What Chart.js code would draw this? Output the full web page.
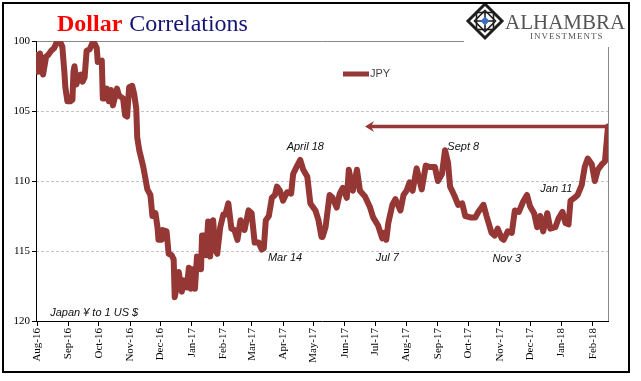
<!DOCTYPE html>
<html>
<head>
<meta charset="utf-8">
<title>Dollar Correlations</title>
<script src="https://cdn.jsdelivr.net/npm/chart.js@4.4.1/dist/chart.umd.min.js"></script>
<style>
  html, body { margin: 0; padding: 0; background: #fff; overflow: hidden; }
  #jpyChart { display: block; }
</style>
</head>
<body>
<canvas id="jpyChart" width="641" height="381"></canvas>
<script>
// --- DATA ---
const startDate = '2016-08-01';
const endDate = '2018-02-16';

const monthStarts = ['2016-08-01', '2016-09-01', '2016-10-01', '2016-11-01', '2016-12-01', '2017-01-01',
  '2017-02-01', '2017-03-01', '2017-04-01', '2017-05-01', '2017-06-01', '2017-07-01', '2017-08-01',
  '2017-09-01', '2017-10-01', '2017-11-01', '2017-12-01', '2018-01-01', '2018-02-01'];
const monthLabels = ['Aug-16', 'Sep-16', 'Oct-16', 'Nov-16', 'Dec-16', 'Jan-17', 'Feb-17', 'Mar-17', 'Apr-17',
  'May-17', 'Jun-17', 'Jul-17', 'Aug-17', 'Sep-17', 'Oct-17', 'Nov-17', 'Dec-17', 'Jan-18', 'Feb-18'];
const yTicks = [100, 105, 110, 115, 120];

// JPY per 1 USD
const jpyDates = [
  '2016-08-01', '2016-08-02', '2016-08-04', '2016-08-07', '2016-08-10', '2016-08-12', '2016-08-15', '2016-08-18',
  '2016-08-21', '2016-08-24', '2016-08-26', '2016-08-28', '2016-08-29', '2016-08-31',
  '2016-09-03', '2016-09-05', '2016-09-06', '2016-09-07', '2016-09-09', '2016-09-11', '2016-09-13', '2016-09-15',
  '2016-09-17', '2016-09-19', '2016-09-22', '2016-09-25', '2016-09-27', '2016-09-29', '2016-09-30',
  '2016-10-04', '2016-10-05', '2016-10-07', '2016-10-09', '2016-10-11', '2016-10-13', '2016-10-15', '2016-10-17',
  '2016-10-19', '2016-10-21', '2016-10-25', '2016-10-27', '2016-10-29', '2016-10-31',
  '2016-11-03', '2016-11-05', '2016-11-07', '2016-11-08', '2016-11-10', '2016-11-14', '2016-11-18', '2016-11-21',
  '2016-11-23', '2016-11-26', '2016-11-28', '2016-11-29',
  '2016-12-02', '2016-12-03', '2016-12-07', '2016-12-09', '2016-12-12', '2016-12-14', '2016-12-15', '2016-12-17',
  '2016-12-19', '2016-12-22', '2016-12-24', '2016-12-27', '2016-12-29', '2016-12-31',
  '2017-01-02', '2017-01-04', '2017-01-06', '2017-01-08', '2017-01-10', '2017-01-11', '2017-01-13', '2017-01-15',
  '2017-01-17', '2017-01-19', '2017-01-22', '2017-01-24', '2017-01-26', '2017-01-29',
  '2017-02-01', '2017-02-03', '2017-02-06', '2017-02-09', '2017-02-12', '2017-02-15', '2017-02-18', '2017-02-22',
  '2017-02-26',
  '2017-03-01', '2017-03-04', '2017-03-08', '2017-03-11', '2017-03-13', '2017-03-15', '2017-03-18', '2017-03-21',
  '2017-03-24', '2017-03-26', '2017-03-29',
  '2017-04-01', '2017-04-05', '2017-04-09', '2017-04-11', '2017-04-15', '2017-04-18', '2017-04-21', '2017-04-25',
  '2017-04-28',
  '2017-05-03', '2017-05-06', '2017-05-09', '2017-05-10', '2017-05-13', '2017-05-17', '2017-05-20', '2017-05-24',
  '2017-05-27', '2017-05-30',
  '2017-06-03', '2017-06-05', '2017-06-09', '2017-06-13', '2017-06-16', '2017-06-21', '2017-06-26', '2017-06-29',
  '2017-07-04', '2017-07-08', '2017-07-10', '2017-07-12', '2017-07-14', '2017-07-18', '2017-07-21', '2017-07-26',
  '2017-07-29',
  '2017-08-01', '2017-08-04', '2017-08-07', '2017-08-11', '2017-08-16', '2017-08-20', '2017-08-24', '2017-08-29',
  '2017-09-01', '2017-09-05', '2017-09-08', '2017-09-11', '2017-09-13', '2017-09-17', '2017-09-21', '2017-09-25',
  '2017-09-28',
  '2017-10-03', '2017-10-08', '2017-10-11', '2017-10-16', '2017-10-19', '2017-10-24', '2017-10-27', '2017-10-30',
  '2017-11-03', '2017-11-05', '2017-11-09', '2017-11-13', '2017-11-16', '2017-11-20', '2017-11-24', '2017-11-28',
  '2017-12-01', '2017-12-05', '2017-12-08', '2017-12-11', '2017-12-14', '2017-12-18', '2017-12-21', '2017-12-26',
  '2017-12-29',
  '2018-01-02', '2018-01-05', '2018-01-08', '2018-01-10', '2018-01-14', '2018-01-17', '2018-01-21', '2018-01-24',
  '2018-01-27', '2018-01-31',
  '2018-02-03', '2018-02-06', '2018-02-10', '2018-02-13', '2018-02-16'
];
const jpyValues = [
  101.0, 102.2, 100.9, 102.4, 101.1, 101.0, 100.7, 100.5, 100.0, 100.1, 100.4, 102.2, 103.3, 104.3,
  104.3, 104.2, 102.2, 101.8, 103.1, 102.5, 102.4, 102.9, 102.6, 100.7, 100.6, 100.1, 100.2, 100.5, 101.5,
  101.4, 104.1, 104.1, 103.4, 104.3, 103.5, 104.6, 104.0, 103.4, 103.9, 104.1, 105.3, 105.4, 103.3,
  103.2, 103.8, 104.8, 106.9, 107.8, 109.0, 110.6, 111.0, 112.5, 112.3, 113.3, 114.2,
  114.2, 113.5, 113.6, 115.2, 115.3, 115.6, 118.3, 117.6, 116.5, 117.9, 117.1, 117.6, 116.2, 117.7,
  116.3, 117.7, 115.4, 115.5, 116.3, 113.9, 113.9, 115.3, 112.9, 115.4, 112.8, 114.9, 115.2, 113.3,
  112.4, 112.4, 111.6, 113.4, 113.5, 114.2, 112.8, 113.5, 112.1,
  112.3, 114.4, 114.4, 114.9, 114.8, 112.8, 112.5, 111.2, 111.0, 110.4, 110.7,
  111.4, 110.8, 110.9, 109.5, 108.9, 108.5, 109.2, 109.7, 111.6,
  112.1, 112.8, 114.0, 114.0, 113.3, 111.0, 111.2, 111.9, 110.9, 110.5,
  111.2, 109.2, 110.7, 109.2, 110.7, 111.1, 111.9, 112.6,
  113.2, 114.1, 113.7, 114.2, 113.0, 111.7, 111.3, 112.1, 111.0,
  110.7, 110.1, 110.7, 109.1, 110.6, 108.9, 109.0, 109.0,
  110.0, 109.5, 107.8, 108.7, 110.4, 111.0, 111.7, 111.6, 112.5,
  112.6, 112.6, 112.2, 111.7, 112.5, 113.7, 113.9, 113.4,
  114.1, 114.2, 113.6, 113.7, 112.1, 112.2, 111.5, 111.0,
  111.8, 112.3, 113.3, 112.5, 113.6, 112.3, 113.4, 113.3, 112.7,
  112.2, 113.0, 113.1, 111.4, 111.2, 111.0, 110.3, 109.0, 108.4, 108.8,
  110.0, 109.2, 108.8, 108.6, 106.1
];

// arrow from the latest reading back across the chart
const arrowFromDate = '2018-02-16';
const arrowToDate = '2017-06-21';
const arrowLevel = 106.1;

// text notes on the chart
const notes = [
  { text: 'April 18', date: '2017-04-23', value: 107.6, align: 'center' },
  { text: 'Sept 8', date: '2017-09-26', value: 107.6, align: 'center' },
  { text: 'Mar 14', date: '2017-04-03', value: 115.5, align: 'center' },
  { text: 'Jul 7', date: '2017-07-13', value: 115.5, align: 'center' },
  { text: 'Nov 3', date: '2017-11-08', value: 115.6, align: 'center' },
  { text: 'Jan 11', date: '2017-12-27', value: 110.6, align: 'center' },
  { text: 'Japan ¥ to 1 US $', date: '2016-08-14', value: 119.4, align: 'left' }
];

const lineColor = '#953735';

// days since the start date
function dayOf(d) {
  return Math.round((Date.parse(d) - Date.parse(startDate)) / 86400000);
}

// --- DRAWING HELPERS ---
function diamond(ctx, cx, cy, r) {
  ctx.beginPath();
  ctx.moveTo(cx, cy - r);
  ctx.lineTo(cx + r, cy);
  ctx.lineTo(cx, cy + r);
  ctx.lineTo(cx - r, cy);
  ctx.closePath();
}

function drawLogo(ctx) {
  // white patch hides the plot border behind the logo
  ctx.fillStyle = '#fff';
  ctx.fillRect(464, 5, 164, 42);

  const cx = 485, cy = 21, r = 17;
  ctx.strokeStyle = '#1e1e1e';
  ctx.lineWidth = 3;
  diamond(ctx, cx, cy, r);
  ctx.stroke();
  ctx.lineWidth = 1.6;
  diamond(ctx, cx, cy, r * 0.62);
  ctx.stroke();
  ctx.strokeRect(cx - r * 0.5, cy - r * 0.5, r, r);
  ctx.beginPath();
  ctx.moveTo(cx - r * 0.5, cy); ctx.lineTo(cx + r * 0.5, cy);
  ctx.moveTo(cx, cy - r * 0.5); ctx.lineTo(cx, cy + r * 0.5);
  ctx.stroke();
  ctx.fillStyle = '#3d6fc1';
  diamond(ctx, cx, cy, 4.5);
  ctx.fill();

  ctx.fillStyle = '#555';
  ctx.textAlign = 'left';
  ctx.textBaseline = 'alphabetic';
  ctx.font = '21px "Liberation Serif"';
  ctx.fillText('ALHAMBRA', 505, 29);
  ctx.font = '9px "Liberation Serif"';
  ctx.letterSpacing = '1px';
  ctx.fillText('INVESTMENTS', 530, 39);
  ctx.letterSpacing = '0px';
}

const decorations = {
  id: 'decorations',
  beforeDraw(chart) {
    const ctx = chart.ctx;
    const { left, right, top, bottom } = chart.chartArea;
    const yScale = chart.scales.y;
    ctx.save();
    ctx.fillStyle = '#fff';
    ctx.fillRect(0, 0, chart.width, chart.height);

    // dashed gridlines
    ctx.strokeStyle = '#c4c4c4';
    ctx.lineWidth = 1;
    ctx.setLineDash([3, 2]);
    yTicks.slice(1, -1).forEach(v => {
      const y = Math.round(yScale.getPixelForValue(v)) + 0.5;
      ctx.beginPath();
      ctx.moveTo(left, y);
      ctx.lineTo(right, y);
      ctx.stroke();
    });
    ctx.setLineDash([]);

    // grey top and right edge of the plot
    ctx.strokeStyle = '#8a8a8a';
    ctx.beginPath();
    ctx.moveTo(left, top + 0.5);
    ctx.lineTo(right + 0.5, top + 0.5);
    ctx.lineTo(right + 0.5, bottom);
    ctx.stroke();
    ctx.restore();
  },
  afterDatasetsDraw(chart) {
    const ctx = chart.ctx;
    const xs = chart.scales.x, ys = chart.scales.y;
    ctx.save();

    // arrow
    const ay = ys.getPixelForValue(arrowLevel);
    const ax1 = xs.getPixelForValue(dayOf(arrowFromDate));
    const ax2 = xs.getPixelForValue(dayOf(arrowToDate));
    ctx.strokeStyle = lineColor;
    ctx.lineWidth = 3.5;
    ctx.beginPath();
    ctx.moveTo(ax1, ay);
    ctx.lineTo(ax2 + 6, ay);
    ctx.stroke();
    ctx.fillStyle = lineColor;
    ctx.beginPath();
    ctx.moveTo(ax2, ay);
    ctx.lineTo(ax2 + 9, ay - 5.5);
    ctx.lineTo(ax2 + 6, ay);
    ctx.lineTo(ax2 + 9, ay + 5.5);
    ctx.closePath();
    ctx.fill();

    // notes
    ctx.fillStyle = '#111';
    ctx.font = 'italic 11px "Liberation Sans"';
    ctx.textBaseline = 'middle';
    notes.forEach(n => {
      ctx.textAlign = n.align;
      ctx.fillText(n.text, xs.getPixelForValue(dayOf(n.date)), ys.getPixelForValue(n.value));
    });

    // legend
    ctx.strokeStyle = lineColor;
    ctx.lineWidth = 5;
    ctx.beginPath();
    ctx.moveTo(343, 74);
    ctx.lineTo(369, 74);
    ctx.stroke();
    ctx.fillStyle = '#404040';
    ctx.font = '11px "Liberation Sans"';
    ctx.textAlign = 'left';
    ctx.fillText('JPY', 370, 74);
    ctx.restore();
  },
  afterDraw(chart) {
    const ctx = chart.ctx;
    ctx.save();

    // title
    ctx.textAlign = 'left';
    ctx.textBaseline = 'alphabetic';
    ctx.font = 'bold 24px "Liberation Serif"';
    ctx.fillStyle = '#ff0000';
    ctx.fillText('Dollar', 57, 31);
    const w = ctx.measureText('Dollar').width;
    ctx.font = '24px "Liberation Serif"';
    ctx.fillStyle = '#141473';
    ctx.fillText('Correlations', 57 + w + 7, 31);

    drawLogo(ctx);

    // outer frame
    ctx.strokeStyle = '#000';
    ctx.lineWidth = 2;
    ctx.strokeRect(3, 3, 626, 369);
    ctx.restore();
  }
};

document.addEventListener('DOMContentLoaded', () => {
  const serif = { family: 'Liberation Serif', size: 11 };

  new Chart(document.getElementById('jpyChart'), {
    type: 'line',
    data: {
      datasets: [{
        label: 'JPY',
        data: jpyDates.map((d, i) => ({ x: dayOf(d), y: jpyValues[i] })),
        borderColor: lineColor,
        borderWidth: 6,
        borderJoinStyle: 'round',
        borderCapStyle: 'round',
        pointRadius: 0,
        tension: 0,
        clip: { left: 0, top: 0, right: 0, bottom: 0 }
      }]
    },
    options: {
      responsive: false,
      animation: false,
      layout: { padding: { top: 41, right: 33, bottom: 0, left: 0 } },
      plugins: { legend: { display: false }, tooltip: { enabled: false } },
      scales: {
        x: {
          type: 'linear',
          min: -1,
          max: dayOf(endDate),
          afterBuildTicks: s => { s.ticks = monthStarts.map(d => ({ value: dayOf(d) })); },
          afterFit: s => { s.height = 60; },
          ticks: {
            autoSkip: false, minRotation: 90, maxRotation: 90, padding: 2,
            color: '#000', font: serif,
            callback: (v, i) => monthLabels[i]
          },
          grid: { drawOnChartArea: false, tickLength: 5, color: '#000' },
          border: { color: '#000', width: 1 }
        },
        y: {
          reverse: true,
          min: 100,
          max: 120,
          afterBuildTicks: s => { s.ticks = yTicks.map(v => ({ value: v })); },
          afterFit: s => { s.width = 36; },
          ticks: { padding: 2, color: '#000', font: serif },
          grid: { drawOnChartArea: false, tickLength: 4, color: '#000' },
          border: { color: '#000', width: 1 }
        }
      }
    },
    plugins: [decorations]
  });
});
</script>
</body>
</html>
